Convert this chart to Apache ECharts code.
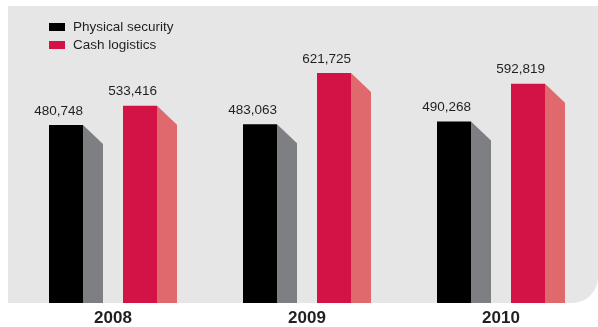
<!DOCTYPE html>
<html>
<head>
<meta charset="utf-8">
<script src="https://cdn.jsdelivr.net/npm/echarts@6/dist/echarts.min.js"></script>
<style>
html,body{margin:0;padding:0;background:#fff;}
#chart{width:598px;height:327px;}
</style>
</head>
<body>
<div id="chart"></div>
<script>
const categories = ['2008', '2009', '2010'];
const physicalSecurity = [480748, 483063, 490268];
const cashLogistics = [533416, 621725, 592819];
const seriesNames = ['Physical security', 'Cash logistics'];

const FONT = '"Liberation Sans", Arial, sans-serif';
const fmt = v => v.toLocaleString('en-US');

function makeRender(offset, frontColor, sideColor) {
  return function (params, api) {
    const cat = api.value(0);
    const val = api.value(1);
    const top = api.coord([cat, val]);
    const base = api.coord([cat, 0]);
    const x0 = top[0] + offset;
    const w = 34, d = 20, slant = 19;
    return {
      type: 'group',
      children: [
        { type: 'rect', shape: { x: x0, y: top[1], width: w, height: base[1] - top[1] }, style: { fill: frontColor } },
        { type: 'polygon', shape: { points: [[x0 + w, top[1]], [x0 + w + d, top[1] + slant], [x0 + w + d, base[1]], [x0 + w, base[1]]] }, style: { fill: sideColor } },
        { type: 'text', style: { text: fmt(val), x: x0 + w, y: top[1] - 14, align: 'right', verticalAlign: 'middle', fill: '#231f20', font: '13.5px ' + FONT } }
      ]
    };
  };
}

const chart = echarts.init(document.getElementById('chart'));
chart.setOption({
  animation: false,
  backgroundColor: '#ffffff',
  graphic: [{
    type: 'rect', z: -10, silent: true,
    shape: { x: 8, y: 6, width: 590, height: 297, r: [0, 0, 26, 0] },
    style: { fill: '#e6e6e6' }
  }],
  grid: { left: 16, right: 0, top: 7, bottom: 24 },
  legend: {
    orient: 'vertical', left: 49, top: 20, padding: 0, itemWidth: 16, itemHeight: 8, itemGap: 4,
    icon: 'rect',
    textStyle: { fontFamily: FONT, fontSize: 13.5, color: '#231f20', lineHeight: 14, padding: [0, 0, 0, 3] },
    data: seriesNames
  },
  xAxis: {
    type: 'category', data: categories,
    axisLine: { show: false }, axisTick: { show: false },
    axisLabel: { fontFamily: FONT, fontSize: 17, fontWeight: 'bold', color: '#231f20', margin: 7 }
  },
  yAxis: { type: 'value', min: 0, max: 800000, show: false, splitLine: { show: false } },
  series: [
    {
      name: seriesNames[0], type: 'custom',
      itemStyle: { color: '#000000' },
      renderItem: makeRender(-64, '#000000', '#7e7f82'),
      encode: { x: 0, y: 1 },
      data: physicalSecurity.map((v, i) => [i, v])
    },
    {
      name: seriesNames[1], type: 'custom',
      itemStyle: { color: '#d31245' },
      renderItem: makeRender(10, '#d31245', '#e0696d'),
      encode: { x: 0, y: 1 },
      data: cashLogistics.map((v, i) => [i, v])
    }
  ]
});
</script>
</body>
</html>
